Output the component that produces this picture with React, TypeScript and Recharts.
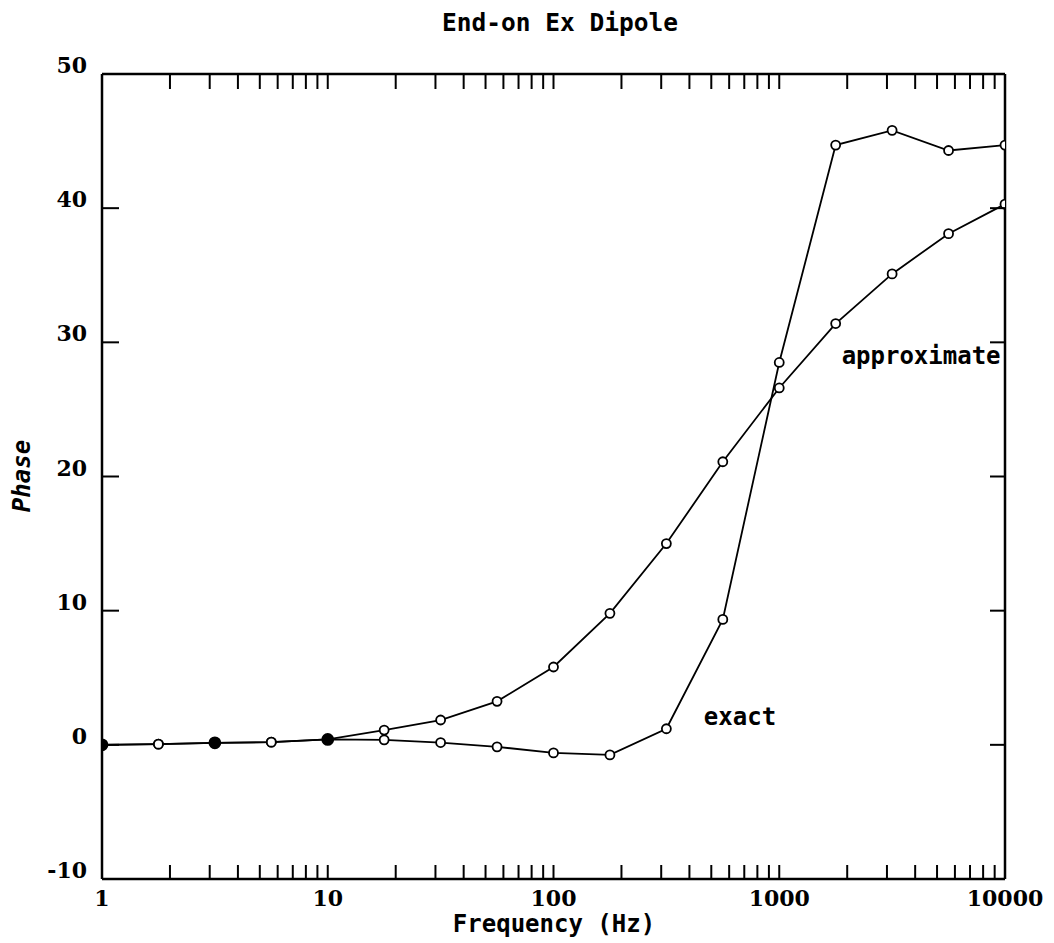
import React from 'react';
import { LineChart, Line, XAxis, YAxis, ReferenceDot } from 'recharts';

const frequencies = [1, 1.778, 3.162, 5.623, 10, 17.78, 31.62, 56.23, 100, 177.8, 316.2, 562.3, 1000, 1778, 3162, 5623, 10000];
const approximatePhase = [0, 0.05, 0.15, 0.2, 0.4, 1.1, 1.85, 3.24, 5.8, 9.8, 15.0, 21.1, 26.6, 31.4, 35.1, 38.1, 40.3];
const exactPhase = [0, 0.05, 0.15, 0.2, 0.4, 0.37, 0.17, -0.15, -0.6, -0.75, 1.2, 9.35, 28.5, 44.7, 45.8, 44.3, 44.7];
const filledFrequencies = [1, 3.162, 10];

const majorXTicks = [1, 10, 100, 1000, 10000];
const xTicks: number[] = [];
[1, 10, 100, 1000].forEach((d) => {
  for (let k = 1; k <= 9; k++) xTicks.push(k * d);
});
xTicks.push(10000);
const yTicks = [-10, 0, 10, 20, 30, 40, 50];

const title = 'End-on Ex Dipole';
const xLabel = 'Frequency (Hz)';
const yLabel = 'Phase';
const seriesLabels = { approximate: 'approximate', exact: 'exact' };
const labelAnchors = { approximate: { f: 4250, v: 29.0 }, exact: { f: 670, v: 2.1 } };

const data = frequencies.map((f, i) => ({ f, approx: approximatePhase[i], exact: exactPhase[i] }));

const mono = '"DejaVu Sans Mono", monospace';
const serif = '"DejaVu Serif", "Liberation Serif", serif';

const BottomTick = (props: any) => {
  const { x, y, payload } = props;
  const isMajor = majorXTicks.includes(payload.value);
  return (
    <g>
      <line x1={x} y1={y} x2={x} y2={y - 14} stroke="#000" strokeWidth={2} />
      {isMajor && (
        <text x={x} y={y + 27} textAnchor="middle" fontFamily={serif} fontWeight="bold" fontSize={22} fill="#000">
          {payload.value}
        </text>
      )}
    </g>
  );
};

const TopTick = (props: any) => {
  const { x, y } = props;
  return <line x1={x} y1={y} x2={x} y2={y + 15} stroke="#000" strokeWidth={2} />;
};

const LeftTick = (props: any) => {
  const { x, y, payload } = props;
  return (
    <g>
      <line x1={x} y1={y} x2={x + 17} y2={y} stroke="#000" strokeWidth={2} />
      <text x={x - 15} y={y - 1} textAnchor="end" fontFamily={serif} fontWeight="bold" fontSize={22} fill="#000">
        {payload.value}
      </text>
    </g>
  );
};

const RightTick = (props: any) => {
  const { x, y } = props;
  return <line x1={x} y1={y} x2={x - 15} y2={y} stroke="#000" strokeWidth={2} />;
};

const OpenDot = (props: any) => {
  const { cx, cy } = props;
  if (cx == null || cy == null) return null;
  return <circle cx={cx} cy={cy} r={4.5} fill="#fff" stroke="#000" strokeWidth={1.8} />;
};

const ExactDot = (props: any) => {
  const { cx, cy, payload } = props;
  if (cx == null || cy == null) return null;
  const filled = filledFrequencies.includes(payload.f);
  return <circle cx={cx} cy={cy} r={filled ? 5.5 : 4.5} fill={filled ? '#000' : '#fff'} stroke="#000" strokeWidth={1.8} />;
};

const TextLabel = (text: string) => (props: any) => {
  const { viewBox } = props;
  const cx = viewBox.x + (viewBox.width || 0) / 2;
  const cy = viewBox.y + (viewBox.height || 0) / 2;
  return (
    <text x={cx} y={cy} textAnchor="middle" dominantBaseline="central" fontFamily={mono} fontWeight="bold" fontSize={24} fill="#000">
      {text}
    </text>
  );
};

export default function App() {
  return (
    <div style={{ position: 'absolute', left: 0, top: 0, width: 1054, height: 943, background: '#fff' }}>
      <div
        style={{
          position: 'absolute', left: 0, width: 1120, top: 8, textAlign: 'center',
          fontFamily: mono, fontWeight: 'bold', fontSize: 24.5, lineHeight: '30px', color: '#000',
        }}
      >
        {title}
      </div>
      <div
        style={{
          position: 'absolute', left: 0, width: 1108, top: 909, textAlign: 'center',
          fontFamily: mono, fontWeight: 'bold', fontSize: 24, lineHeight: '30px', color: '#000',
        }}
      >
        {xLabel}
      </div>
      <div
        style={{
          position: 'absolute', left: 22, top: 476, transform: 'translate(-50%, -50%) rotate(-90deg)',
          fontFamily: mono, fontWeight: 'bold', fontStyle: 'italic', fontSize: 24, lineHeight: '30px', color: '#000',
          whiteSpace: 'nowrap',
        }}
      >
        {yLabel}
      </div>
      <LineChart
        width={1054}
        height={943}
        data={data}
        margin={{ top: 44, right: 19, bottom: 34, left: 42 }}
        style={{ position: 'absolute', left: 0, top: 0 }}
      >
        <XAxis
          xAxisId="bottom"
          dataKey="f"
          type="number"
          scale="log"
          domain={[1, 10000]}
          ticks={xTicks}
          interval={0}
          height={30}
          tickSize={0}
          tickMargin={0}
          tickLine={false}
          axisLine={{ stroke: '#000', strokeWidth: 2.5 }}
          tick={<BottomTick />}
          allowDataOverflow
        />
        <XAxis
          xAxisId="top"
          orientation="top"
          dataKey="f"
          type="number"
          scale="log"
          domain={[1, 10000]}
          ticks={xTicks}
          interval={0}
          height={30}
          tickSize={0}
          tickMargin={0}
          tickLine={false}
          axisLine={{ stroke: '#000', strokeWidth: 2.5 }}
          tick={<TopTick />}
          allowDataOverflow
        />
        <YAxis
          yAxisId="left"
          type="number"
          domain={[-10, 50]}
          ticks={yTicks}
          interval={0}
          width={60}
          tickSize={0}
          tickMargin={0}
          tickLine={false}
          axisLine={{ stroke: '#000', strokeWidth: 2.5 }}
          tick={<LeftTick />}
          allowDataOverflow
        />
        <YAxis
          yAxisId="right"
          orientation="right"
          type="number"
          domain={[-10, 50]}
          ticks={yTicks}
          interval={0}
          width={30}
          tickSize={0}
          tickMargin={0}
          tickLine={false}
          axisLine={{ stroke: '#000', strokeWidth: 2.5 }}
          tick={<RightTick />}
          allowDataOverflow
        />
        <Line
          xAxisId="bottom"
          yAxisId="left"
          type="linear"
          dataKey="approx"
          stroke="#000"
          strokeWidth={1.8}
          dot={<OpenDot />}
          activeDot={false}
          isAnimationActive={false}
        />
        <Line
          xAxisId="bottom"
          yAxisId="left"
          type="linear"
          dataKey="exact"
          stroke="#000"
          strokeWidth={1.8}
          dot={<ExactDot />}
          activeDot={false}
          isAnimationActive={false}
        />
        <ReferenceDot
          xAxisId="bottom"
          yAxisId="left"
          x={labelAnchors.approximate.f}
          y={labelAnchors.approximate.v}
          r={0}
          stroke="none"
          fill="none"
          label={TextLabel(seriesLabels.approximate)}
        />
        <ReferenceDot
          xAxisId="bottom"
          yAxisId="left"
          x={labelAnchors.exact.f}
          y={labelAnchors.exact.v}
          r={0}
          stroke="none"
          fill="none"
          label={TextLabel(seriesLabels.exact)}
        />
      </LineChart>
    </div>
  );
}
